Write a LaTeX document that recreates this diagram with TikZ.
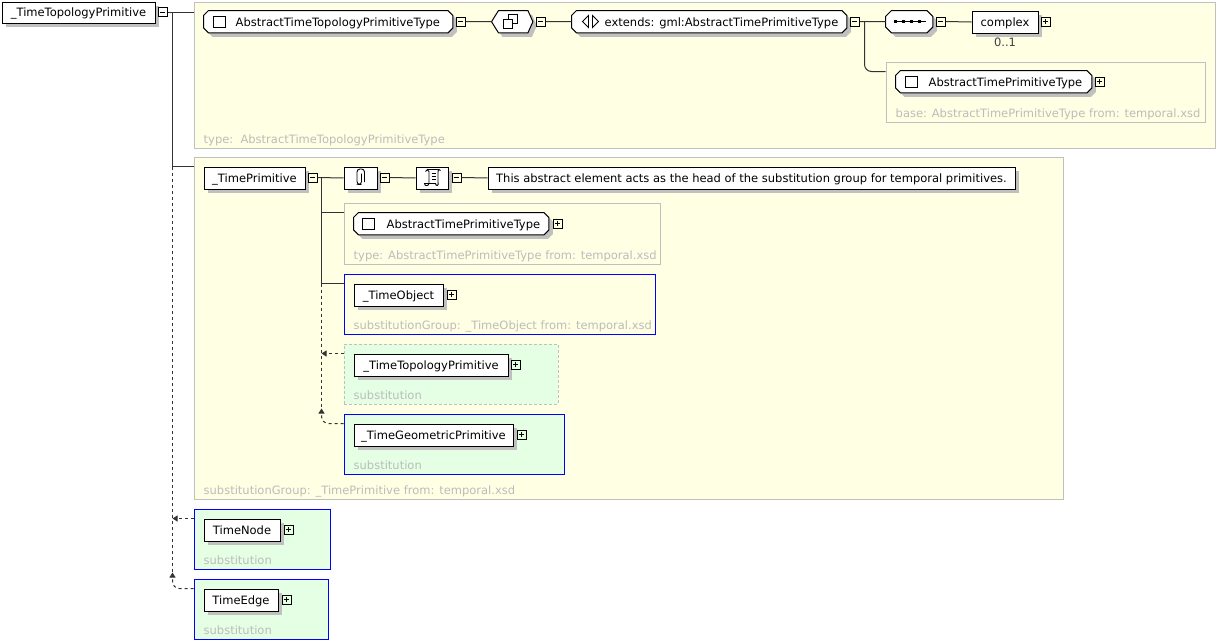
\documentclass[tikz,border=0pt]{standalone}
\usepackage{fontspec}
\setmainfont{DejaVu Sans}
\usetikzlibrary{arrows.meta,shadows}
\definecolor{panel}{HTML}{FFFFE4}
\definecolor{subst}{HTML}{E4FFE4}
\definecolor{frame}{HTML}{C0C0C0}
\definecolor{note}{HTML}{BCBCBC}
\definecolor{shade}{HTML}{C0C0C0}
\definecolor{wire}{HTML}{333333}
\definecolor{refblue}{HTML}{0000FF}
\newcommand\elfont{\fontsize{11.5}{13}\selectfont}
% chamfered outline drawn round an empty placeholder node
\newcommand\octpath[2]{%
  \path[octa] ([xshift=#2pt]#1.north west) -- ([xshift=-#2pt]#1.north east)
    -- ([yshift=-#2pt]#1.north east) -- ([yshift=#2pt]#1.south east)
    -- ([xshift=-#2pt]#1.south east) -- ([xshift=#2pt]#1.south west)
    -- ([yshift=#2pt]#1.south west) -- ([yshift=-#2pt]#1.north west) -- cycle;}
\tikzset{
  shade box/.style={drop shadow={shadow xshift=4pt,shadow yshift=-4pt,fill=shade,opacity=1}},
  elem/.style={draw,line width=1pt,fill=white,inner sep=0pt,anchor=north west,
    minimum height=22pt,text height=10.5pt,text depth=2pt,font=\elfont,shade box},
  ghost/.style={inner sep=0pt,anchor=north west,minimum height=22pt},
  otext/.style={anchor=base west,inner sep=0pt,font=\elfont},
  panelbox/.style={draw=frame,fill=panel,line width=1pt,inner sep=0pt,anchor=north west},
  refbox/.style={panelbox,draw=refblue},
  subbox/.style={panelbox,fill=subst,draw=refblue},
  weakbox/.style={panelbox,fill=subst,dash pattern=on 3pt off 2pt},
  caption/.style={anchor=base west,inner sep=0pt,font=\elfont,text=note},
  toggle/.style={draw,line width=1pt,minimum size=9pt,inner sep=0pt},
  minus/.style={toggle,path picture={\draw[line width=1pt]
    ([xshift=2pt]path picture bounding box.west) -- ([xshift=-2pt]path picture bounding box.east);}},
  plus/.style={toggle,path picture={\draw[line width=1pt]
    ([xshift=2pt]path picture bounding box.west) -- ([xshift=-2pt]path picture bounding box.east)
    ([yshift=2pt]path picture bounding box.south) -- ([yshift=-2pt]path picture bounding box.north);}},
  wirestyle/.style={draw=wire,line width=1pt},
  dashwire/.style={wirestyle,dash pattern=on 3pt off 3pt},
  subwire/.style={dashwire,-{Triangle[length=5pt,width=6pt]}},
  octa/.style={draw,line width=1pt,fill=white,shade box},
  icon/.style={line width=1pt},
}
\begin{document}
\begin{tikzpicture}[x=1pt,y=-1pt]
\useasboundingbox (0,0) rectangle (1216,640);
% half-pixel offset keeps the 1pt rules on whole pixels
\begin{scope}[xshift=0.5pt,yshift=-0.5pt]

% ---------- containers ----------
\node[panelbox,minimum width=1021pt,minimum height=146pt] (c1) at (193,1) {};
\node[caption] (c1cap) at (203,143) {type:\ \ AbstractTimeTopologyPrimitiveType};
\node[panelbox,minimum width=319pt,minimum height=60pt] (cb) at (885,61) {};
\node[caption] (cbcap) at (895,117) {base: AbstractTimePrimitiveType from: temporal.xsd};

\node[panelbox,minimum width=869pt,minimum height=342pt] (c2) at (193,156) {};
\node[caption] (c2cap) at (203,494) {substitutionGroup: \_TimePrimitive from: temporal.xsd};
\node[panelbox,minimum width=316pt,minimum height=61pt] (ct) at (343,202) {};
\node[caption] (ctcap) at (353,259) {type: AbstractTimePrimitiveType from: temporal.xsd};
\node[refbox,minimum width=311pt,minimum height=60pt] (co) at (343,273) {};
\node[caption] (cocap) at (353,329) {substitutionGroup: \_TimeObject from: temporal.xsd};
\node[weakbox,minimum width=214pt,minimum height=60pt] (ctp) at (343,343) {};
\node[caption] (ctpcap) at (353,399) {substitution};
\node[subbox,minimum width=220pt,minimum height=60pt] (cg) at (343,413) {};
\node[caption] (cgcap) at (353,469) {substitution};

\node[subbox,minimum width=136pt,minimum height=60pt] (cn) at (193,508) {};
\node[caption] (cncap) at (203,564) {substitution};
\node[subbox,minimum width=134pt,minimum height=60pt] (ce) at (193,578) {};
\node[caption] (cecap) at (203,634) {substitution};

% ---------- root element ----------
\node[elem,minimum width=153pt,minimum height=21pt] (root) at (1,1) {\_TimeTopologyPrimitive};
\node[minus] (rootm) at (162,11.5) {};
\coordinate (j1) at (172,11.5);
\coordinate (c2p) at ([yshift=-10pt]c2.north west);
\coordinate (cnp) at ([yshift=-10pt]cn.north west);
\coordinate (cep) at ([yshift=-10pt]ce.north west);
\coordinate (j1b) at (j1 |- c2p);
\coordinate (a1) at (172,572);
\draw[wirestyle] (rootm.east) -- (rootm.east -| c1.west);
\draw[wirestyle] (j1) |- (c2p);
\draw[dashwire] (j1b) -- (a1);
\draw[subwire] (cnp) -- (cnp -| j1);
\draw[subwire,rounded corners=7pt] (cep) -| (a1);

% ---------- complex type ----------
\node[ghost,minimum width=249pt] (o1) at (203,10) {};
\octpath{o1}{5}
\draw[icon] (213,15.5) rectangle (224.5,27);
\node[otext] (o1t) at (235,25.5) {AbstractTimeTopologyPrimitiveType};
\node[minus] (o1m) at (460,21) {};

\node[ghost,minimum width=41pt] (hx) at (491,10) {};
\path[octa] (hx.west) -- ([xshift=7pt]hx.north west) -- ([xshift=-5pt]hx.north east)
  -- (hx.east) -- ([xshift=-5pt]hx.south east) -- ([xshift=7pt]hx.south west) -- cycle;
\draw[icon] (508,13.5) rectangle (517,22.5);
\filldraw[icon,fill=white] (503,18.5) rectangle (512,27.5);
\node[minus] (hxm) at (540,21) {};

\node[ghost,minimum width=275pt] (ext) at (571,10) {};
\octpath{ext}{5}
\draw[line width=0.9pt] (588,15) -- (582,21) -- (588,27) -- cycle
  (592,15) -- (598,21) -- (592,27) -- cycle;
\node[otext] (extt) at (604,25.5) {extends: gml:AbstractTimePrimitiveType};
\node[minus] (extm) at (854,21) {};
\coordinate (j3) at (864,21);
\coordinate (cbp) at ([yshift=-10pt]cb.north west);

\node[ghost,minimum width=47pt] (seq) at (885,10) {};
\octpath{seq}{6}
\draw[line width=0.8pt] (893,21) -- (925,21);
\foreach \x in {895,903,911,919} \fill (\x-1.75,19.25) rectangle ++(3.5,3.5);
\node[minus] (seqm) at (940,21) {};

\node[elem,minimum width=66pt] (cx) at (971,10) {complex};
\node[plus] (cxp) at (1045,21) {};
\node[font=\elfont,text=black!75,anchor=base,inner sep=0pt] (occ) at (1004.5,46) {0..1};

\node[ghost,minimum width=196pt] (ob) at (895,70) {};
\octpath{ob}{5}
\draw[icon] (905,75.5) rectangle (916.5,87);
\node[otext] (obt) at (928,85.5) {AbstractTimePrimitiveType};
\node[plus] (obp) at (1099,81) {};

\draw[wirestyle] (o1m.east) -- (hx.west);
\draw[wirestyle] (hxm.east) -- (ext.west);
\draw[wirestyle] (extm.east) -- (seq.west);
\draw[wirestyle,rounded corners=7pt] (j3) |- (cbp);
\draw[wirestyle] (seqm.east) -- (cx.west);

% ---------- _TimePrimitive ----------
\node[elem,minimum width=101pt] (tp) at (203,166) {\_TimePrimitive};
\node[minus] (tpm) at (312,177) {};
\coordinate (j2) at (321,177);

\node[elem,minimum width=33pt] (ann) at (343,166) {};
\draw[line width=0.9pt,rounded corners=3pt] (361,173) -- (361,184) -- (356.5,184)
  -- (356.5,168.5) -- (364,168.5) -- (364,181.5);
\node[minus] (annm) at (384,177) {};

\node[elem,minimum width=32pt] (doc) at (415,166) {};
\draw[line width=0.9pt] (425,171) .. controls (425,168.5) and (428.5,168.5) .. (428.5,171)
  -- (428.5,182.5) .. controls (428.5,186) and (424,186) .. (424,183) -- (435,183)
  .. controls (435,186) and (439,185.5) .. (437.5,182) -- (437.5,171.5)
  .. controls (437.5,168.5) and (439.5,168.5) .. (440,170);
\draw[line width=0.9pt] (426.5,169) -- (438.5,169);
\draw[line width=0.8pt] (431,173) -- (435.5,173) (431,176) -- (435.5,176) (431,179) -- (435.5,179);
\node[minus] (docm) at (456,177) {};

\node[elem,minimum width=527pt] (dtxt) at (487,166)
  {This abstract element acts as the head of the substitution group for temporal primitives.};

\draw[wirestyle] (tpm.east) -- (ann.west);
\draw[wirestyle] (annm.east) -- (doc.west);
\draw[wirestyle] (docm.east) -- (dtxt.west);

\node[ghost,minimum width=195pt] (ot) at (353,212) {};
\octpath{ot}{5}
\draw[icon] (362,217.5) rectangle (373.5,229);
\node[otext] (ott) at (386,227.5) {AbstractTimePrimitiveType};
\node[plus] (otp) at (557,223) {};

\node[elem,minimum width=89pt] (tobj) at (353,283) {\_TimeObject};
\node[plus] (tobjp) at (451,294) {};
\node[elem,minimum width=154pt] (ttp) at (353,353) {\_TimeTopologyPrimitive};
\node[plus] (ttpp) at (515,364) {};
\node[elem,minimum width=159pt] (tgp) at (353,423) {\_TimeGeometricPrimitive};
\node[plus] (tgpp) at (521,434) {};

\coordinate (ctport) at ([yshift=-10pt]ct.north west);
\coordinate (coport) at ([yshift=-10pt]co.north west);
\coordinate (ctpport) at ([yshift=-10pt]ctp.north west);
\coordinate (cgport) at ([yshift=-10pt]cg.north west);
\coordinate (a2) at (321,408);
\draw[wirestyle] (j2) |- (ctport);
\draw[wirestyle] (j2) |- (coport);
\draw[dashwire] (coport -| j2) -- (a2);
\draw[subwire] (ctpport) -- (ctpport -| j2);
\draw[subwire,rounded corners=7pt] (cgport) -| (a2);

% ---------- substitutes of the root ----------
\node[elem,minimum width=76pt] (tn) at (203,518) {TimeNode};
\node[plus] (tnp) at (288,529) {};
\node[elem,minimum width=74pt] (te) at (203,588) {TimeEdge};
\node[plus] (tep) at (286,599) {};
\end{scope}
\end{tikzpicture}
\end{document}
